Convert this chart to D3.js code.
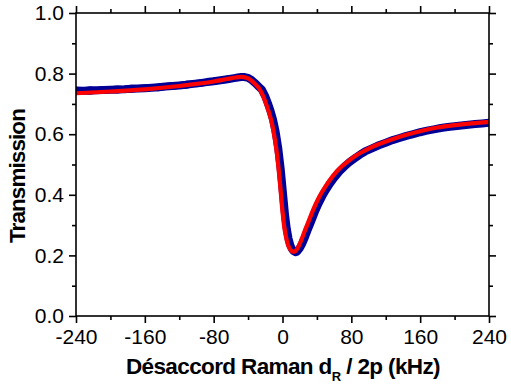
<!DOCTYPE html>
<html>
<head>
<meta charset="utf-8">
<script src="https://cdn.jsdelivr.net/npm/d3@7"></script>
<style>
  html, body { margin: 0; padding: 0; background: #fff; }
  svg { display: block; }
  text { font-family: "Liberation Sans", Arial, sans-serif; fill: #000; }
</style>
</head>
<body>
<svg id="chart" width="511" height="387"></svg>
<script>
// Raman detuning (kHz) and measured transmission: lower/upper envelope of the noisy trace
const measDetuning = [-240,-232,-224,-216,-208,-200,-192,-184,-176,-168,-160,-152,-144,-136,-128,-120,-112,-104,-96,-88,-80,-72,-64,
  -56,-52,-48,-44,-40,-36,-32,-28,-24,-20,-17,-14,-11,-8,-5,-2,1,3,5,7,9,11,13,15,17,20,
  23,26,29,32,35,38,42,46,50,55,60,66,72,78,84,90,
  96,104,112,120,128,136,144,152,160,168,176,184,192,200,208,216,224,232,240];
const measLow = [.731,.733,.730,.734,.733,.736,.734,.738,.737,.740,.739,.743,.742,.746,.746,.750,.750,.755,.756,.761,.762,.767,.769,
  .775,.777,.778,.779,.776,.768,.759,.748,.737,.715,.693,.668,.639,.598,.545,.472,.383,.322,.277,.246,.224,.210,.203,.199,.201,.212,
  .228,.249,.271,.292,.313,.335,.361,.383,.403,.425,.444,.464,.481,.496,.508,.520,
  .532,.544,.552,.562,.569,.578,.583,.591,.595,.602,.605,.611,.612,.617,.618,.622,.622,.626,.627];
const measHigh = [.757,.754,.758,.756,.759,.758,.761,.759,.763,.762,.765,.764,.768,.769,.772,.772,.776,.777,.781,.783,.787,.789,.794,
  .795,.797,.799,.798,.796,.790,.779,.768,.757,.735,.712,.688,.658,.619,.565,.493,.402,.343,.297,.266,.245,.232,.225,.222,.224,.235,
  .250,.270,.293,.314,.335,.357,.382,.405,.425,.447,.467,.489,.505,.520,.533,.545,
  .554,.563,.575,.582,.592,.597,.606,.610,.618,.621,.627,.630,.635,.636,.640,.641,.645,.645,.648];

// Fitted transmission profile
const fitDetuning = [-240,-200,-160,-120,-100,-80,-65,-55,-48,-42,-37,-32,-26,-22,-18,-15,-12,-9,-6,-3,0,2,4,6,8,10,12.5,15,18,22,26,30,35,40,45,50,58,66,75,85,95,110,125,140,160,180,200,220,240];
const fitTransmission = [.735,.741,.748,.759,.766,.774,.782,.787,.789,.786,.779,.766,.746,.722,.691,.665,.632,.585,.525,.440,.345,.295,.262,.238,.224,.216,.212,.214,.226,.252,.282,.310,.346,.378,.405,.428,.460,.486,.508,.529,.545,.565,.581,.595,.610,.622,.630,.636,.641];

const xTickValues = [-240,-160,-80,0,80,160,240];
const xMinorValues = [-200,-120,-40,40,120,200];
const yTickValues = [0.0,0.2,0.4,0.6,0.8,1.0];
const yMinorValues = [0.1,0.3,0.5,0.7,0.9];

const xTitle = ["Désaccord Raman d", "R", " / 2p (kHz)"];
const yTitle = "Transmission";

const svg = d3.select("#chart");
const L = 76, R = 489, T = 13, B = 316;

const x = d3.scaleLinear().domain([-240, 240]).range([L, R]);
const y = d3.scaleLinear().domain([0, 1]).range([B, T]);

svg.append("defs").append("clipPath").attr("id", "plotClip")
  .append("rect").attr("x", L).attr("y", T).attr("width", R - L).attr("height", B - T);

const plot = svg.append("g").attr("clip-path", "url(#plotClip)");

const meas = measDetuning.map((d, i) => ({ x: d, lo: measLow[i], hi: measHigh[i] }));
const blue = "#000096";

// noisy measurement: vertical spread plus a thick trace along its middle
plot.append("path")
  .datum(meas)
  .attr("fill", blue)
  .attr("d", d3.area().x(d => x(d.x)).y0(d => y(d.lo)).y1(d => y(d.hi)));
plot.append("path")
  .datum(meas)
  .attr("fill", "none")
  .attr("stroke", blue)
  .attr("stroke-width", 8)
  .attr("stroke-linejoin", "round")
  .attr("stroke-linecap", "round")
  .attr("d", d3.line().x(d => x(d.x)).y(d => y((d.lo + d.hi) / 2)));

// fit
const fit = fitDetuning.map((d, i) => ({ x: d, t: fitTransmission[i] }));
plot.append("path")
  .datum(fit)
  .attr("fill", "none")
  .attr("stroke", "#ff0000")
  .attr("stroke-width", 4.2)
  .attr("stroke-linejoin", "round")
  .attr("d", d3.line().x(d => x(d.x)).y(d => y(d.t)).curve(d3.curveMonotoneX));

// axes: outward ticks on bottom/left, inward on top/right
const fontSize = 21;
function styleAxis(g) {
  g.select(".domain").remove();
  g.selectAll("line").attr("stroke", "#000").attr("stroke-width", 1.6);
}
function styleLabels(g) {
  g.selectAll("text").attr("font-size", fontSize)
    .attr("font-family", "Liberation Sans, Arial, sans-serif").attr("fill", "#000");
}
svg.append("g").attr("transform", `translate(0,${B})`)
  .call(d3.axisBottom(x).tickValues(xTickValues).tickSize(7).tickPadding(6).tickFormat(d => String(d)))
  .call(styleAxis).call(styleLabels);
svg.append("g").attr("transform", `translate(0,${B})`)
  .call(d3.axisBottom(x).tickValues(xMinorValues).tickSize(4).tickFormat(""))
  .call(styleAxis);
svg.append("g").attr("transform", `translate(0,${T})`)
  .call(d3.axisBottom(x).tickValues(xTickValues).tickSize(-7).tickFormat(""))
  .call(styleAxis);
svg.append("g").attr("transform", `translate(0,${T})`)
  .call(d3.axisBottom(x).tickValues(xMinorValues).tickSize(-4).tickFormat(""))
  .call(styleAxis);

svg.append("g").attr("transform", `translate(${L},0)`)
  .call(d3.axisLeft(y).tickValues(yTickValues).tickSize(7).tickPadding(5).tickFormat(d3.format(".1f")))
  .call(styleAxis).call(styleLabels);
svg.append("g").attr("transform", `translate(${L},0)`)
  .call(d3.axisLeft(y).tickValues(yMinorValues).tickSize(4).tickFormat(""))
  .call(styleAxis);
svg.append("g").attr("transform", `translate(${R},0)`)
  .call(d3.axisLeft(y).tickValues(yTickValues).tickSize(-7).tickFormat(""))
  .call(styleAxis);
svg.append("g").attr("transform", `translate(${R},0)`)
  .call(d3.axisLeft(y).tickValues(yMinorValues).tickSize(-4).tickFormat(""))
  .call(styleAxis);

// frame
svg.append("rect")
  .attr("x", L).attr("y", T).attr("width", R - L).attr("height", B - T)
  .attr("fill", "none").attr("stroke", "#000").attr("stroke-width", 1.6);

// fit a text element to a target width by adjusting letter spacing
function fitWidth(sel, target) {
  const n = sel.text().length;
  const w = sel.node().getComputedTextLength();
  sel.attr("letter-spacing", (target - w) / n);
}

// x title with subscript
const xt = svg.append("text")
  .attr("x", 0).attr("y", 374)
  .attr("font-size", 22.5).attr("font-weight", "bold");
xt.append("tspan").text(xTitle[0]);
xt.append("tspan").text(xTitle[1]).attr("font-size", 13).attr("dy", 7);
xt.append("tspan").text(xTitle[2]).attr("dy", -7);
fitWidth(xt, 314);
const xb = xt.node().getBBox();
xt.attr("x", 283 - xb.width / 2);

// y title
const yt = svg.append("text")
  .attr("transform", "translate(25,176) rotate(-90)")
  .attr("text-anchor", "middle")
  .attr("font-size", 22.5).attr("font-weight", "bold")
  .text(yTitle);
fitWidth(yt, 134);
</script>
</body>
</html>
